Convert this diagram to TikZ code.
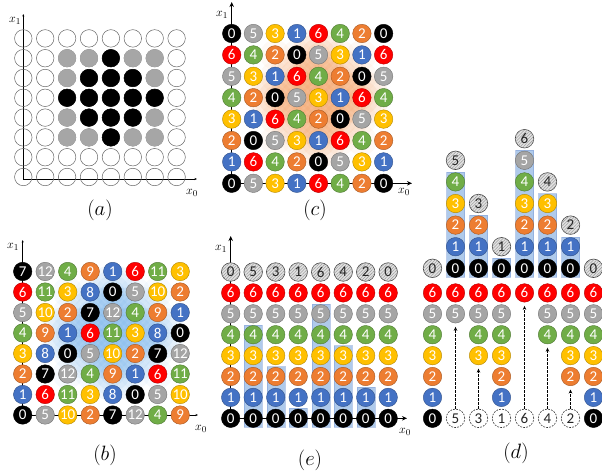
\documentclass[tikz,border=0pt]{standalone}
\usepackage{fontspec}
\newfontfamily\digitfont{Carlito}
\usetikzlibrary{arrows.meta,patterns.meta}
\definecolor{c0}{HTML}{000000}
\definecolor{c1}{HTML}{4472C4}
\definecolor{c2}{HTML}{ED7D31}
\definecolor{c3}{HTML}{FFC000}
\definecolor{c4}{HTML}{70AD47}
\definecolor{c5}{HTML}{A5A5A5}
\definecolor{c6}{HTML}{FF0000}
\definecolor{glowO}{HTML}{F08A40}
\definecolor{glowB}{HTML}{5BA3E6}
\definecolor{barB}{HTML}{8DB4E2}
\newcommand\mynumfont{\digitfont\fontsize{15}{15}\selectfont}
\tikzset{
  ball/.style={circle, minimum size=18.5pt, inner sep=0pt, fill=#1, draw=#1!70!black, line width=0.4pt, text=white, font=\mynumfont},
  hatchball/.style={circle, minimum size=18.5pt, inner sep=0pt, fill=gray!22, draw=black!75, line width=0.6pt, text=black!85, font=\mynumfont, postaction={pattern={Lines[angle=45,distance=2.2pt,line width=0.55pt]}, pattern color=gray!75}},
  dashball/.style={circle, minimum size=18.5pt, inner sep=0pt, fill=white, draw=black!80, line width=0.6pt, dash pattern=on 1.8pt off 1.2pt, text=black!85, font=\mynumfont},
  acirc/.style={circle, minimum size=17.5pt, inner sep=0pt, draw=black!60, line width=0.5pt},
  agray/.style={circle, minimum size=17.5pt, inner sep=0pt, fill=black!35, draw=black!35, line width=0.5pt},
  ablack/.style={circle, minimum size=17.5pt, inner sep=0pt, fill=black, draw=black, line width=0.5pt},
  thinaxis/.style={line width=0.6pt, {Stealth[length=2.5pt,width=2pt]}-{Stealth[length=2.5pt,width=2pt]}},
  thickaxis/.style={line width=1.1pt, {Stealth[length=5pt,width=4.5pt]}-{Stealth[length=5pt,width=4.5pt]}},
  bar/.style={fill=barB, fill opacity=0.7, draw=c1!70, draw opacity=0.5, line width=0.4pt},
  darrow/.style={line width=0.8pt, dash pattern=on 2.5pt off 1.5pt, -{Stealth[length=4pt,width=3.5pt]}},
  axlab/.style={font=\fontsize{13}{13}\selectfont, inner sep=0pt},
  panlab/.style={font=\fontsize{20}{20}\selectfont, inner sep=0pt}
}
\begin{document}
\begin{tikzpicture}[x=1pt,y=-1pt]
\useasboundingbox (0,0) rectangle (602,474);

% ---------------- panel (a)
\coordinate (aY) at (23.3,14);
\coordinate (aO) at (23.3,179);
\coordinate (aX) at (197,179);
\draw[thinaxis] (aY) -- (aO) -- (aX);
\foreach \i in {0,...,7}{\foreach \j in {0,...,7}{
  \node[acirc] (a\i\j) at ({23.3+\i*21.9},{177-\j*19.8}) {};
}}
\foreach \i/\j in {2/6,3/6,5/6,6/6,2/5,6/5,2/3,6/3,2/2,3/2,5/2,6/2}
  \node[agray] (ag\i\j) at ({23.3+\i*21.9},{177-\j*19.8}) {};
\foreach \i/\j in {4/6,3/5,4/5,5/5,2/4,3/4,4/4,5/4,6/4,3/3,4/3,5/3,4/2}
  \node[ablack] (ab\i\j) at ({23.3+\i*21.9},{177-\j*19.8}) {};
\node[axlab] (ax1a) at (15,21) {$x_1$};
\node[axlab] (ax0a) at (192,193) {$x_0$};
\node[panlab] (la) at (100,210) {$(a)$};

% ---------------- panel (c)
\foreach \i/\j in {2/6,3/6,5/6,6/6,2/5,6/5,2/3,6/3,2/2,3/2,5/2,6/2}
  \foreach \r in {15,10}
    \fill[glowO, fill opacity=0.05] ({231.7+\i*21.7},{183.3-\j*21.4}) circle (\r);
\foreach \i/\j in {4/6,3/5,4/5,5/5,2/4,3/4,4/4,5/4,6/4,3/3,4/3,5/3,4/2}
  \foreach \r in {27,22,17,12,7}
    \fill[glowO, fill opacity=0.085] ({231.7+\i*21.7},{183.3-\j*21.4}) circle (\r);
\coordinate (cY) at (231.7,2);
\coordinate (cO) at (231.7,183.3);
\coordinate (cX) at (412,183.3);
\draw[thickaxis] (cY) -- (cO) -- (cX);
\foreach \i in {0,...,7}{\foreach \j in {0,...,7}{
  \pgfmathtruncatemacro\v{mod(\j-2*\i+14,7)}
  \node[ball=c\v] (c\i\j) at ({231.7+\i*21.7},{183.3-\j*21.4}) {\v};
}}
\node[axlab] (ax1c) at (222,15) {$x_1$};
\node[axlab] (ax0c) at (404,192) {$x_0$};
\node[panlab] (lc) at (315,210) {$(c)$};

% ---------------- panel (b)
\foreach \i/\j in {2/6,3/6,5/6,6/6,2/5,6/5,2/3,6/3,2/2,3/2,5/2,6/2}
  \foreach \r in {15,10}
    \fill[glowB, fill opacity=0.05] ({22.7+\i*22.5},{415-\j*20.5}) circle (\r);
\foreach \i/\j in {4/6,3/5,4/5,5/5,2/4,3/4,4/4,5/4,6/4,3/3,4/3,5/3,4/2}
  \foreach \r in {27,22,17,12,7}
    \fill[glowB, fill opacity=0.085] ({22.7+\i*22.5},{415-\j*20.5}) circle (\r);
\coordinate (bY) at (22.7,240);
\coordinate (bO) at (22.7,415);
\coordinate (bX) at (198,415);
\draw[thinaxis] (bY) -- (bO) -- (bX);
\foreach \i in {0,...,7}{\foreach \j in {0,...,7}{
  \pgfmathtruncatemacro\v{mod(\j+5*\i,13)}
  \pgfmathtruncatemacro\k{mod(\v,7)}
  \node[ball=c\k] (b\i\j) at ({22.7+\i*22.5},{415-\j*20.5}) {\v};
}}
\node[axlab] (ax1b) at (13,247) {$x_1$};
\node[axlab] (ax0b) at (201,429) {$x_0$};
\node[panlab] (lb) at (105,455) {$(b)$};

% ---------------- panel (e)
\foreach \i/\h in {0/0,1/5,2/3,3/1,4/6,5/4,6/2,7/0}{
  \ifnum\h>0
    \fill[bar] ({230.7+\i*22.5-9},{418.3+8.5}) rectangle ({230.7+\i*22.5+9},{418.3-(\h-1)*20.9-10});
  \fi
}
\coordinate (eY) at (230.7,236);
\coordinate (eO) at (230.7,418.3);
\coordinate (eX) at (407,418.3);
\draw[thickaxis] (eY) -- (eO) -- (eX);
\foreach \i/\h in {0/0,1/5,2/3,3/1,4/6,5/4,6/2,7/0}{
  \foreach \j in {0,...,6}{
    \node[ball=c\j] (e\i\j) at ({230.7+\i*22.5},{418.3-\j*20.9}) {\j};
  }
  \node[hatchball] (e\i7) at ({230.7+\i*22.5},{418.3-7*20.9}) {\h};
}
\node[axlab] (ax1e) at (221,249) {$x_1$};
\node[axlab] (ax0e) at (405,432) {$x_0$};
\node[panlab] (le) at (310,460) {$(e)$};

% ---------------- panel (d)
\foreach \i/\h in {0/0,1/5,2/3,3/1,4/6,5/4,6/2,7/0}{
  \ifnum\h>0
    \fill[bar] ({432.5+\i*23-9},{268.3+8.5}) rectangle ({432.5+\i*23+9},{268.3-(\h-1)*21.6-10});
  \fi
}
\foreach \i/\h in {0/0,1/5,2/3,3/1,4/6,5/4,6/2,7/0}{
  \ifnum\h=0
    \foreach \j in {0,...,6}{
      \node[ball=c\j] (d\i\j) at ({432.5+\i*23},{418.3-\j*20.9}) {\j};
    }
    \node[hatchball] (du\i0) at ({432.5+\i*23},268.3) {0};
  \else
    \node[dashball] (dl\i) at ({432.5+\i*23},418.3) {\h};
    \foreach \j in {\h,...,6}{
      \node[ball=c\j] (d\i\j) at ({432.5+\i*23},{418.3-\j*20.9}) {\j};
    }
    \ifnum\h>1
      \coordinate (dt\i) at ({432.5+\i*23},{418.3-\h*20.9+13});
      \draw[darrow] (dl\i.north) -- (dt\i);
    \fi
    \pgfmathtruncatemacro\hm{\h-1}
    \foreach \k in {0,...,\hm}{
      \node[ball=c\k] (du\i\k) at ({432.5+\i*23},{268.3-\k*21.6}) {\k};
    }
    \node[hatchball] (du\i\h) at ({432.5+\i*23},{268.3-\h*21.6}) {\h};
  \fi
}
\node[panlab] (ld) at (516,453) {$(d)$};
\end{tikzpicture}
\end{document}
